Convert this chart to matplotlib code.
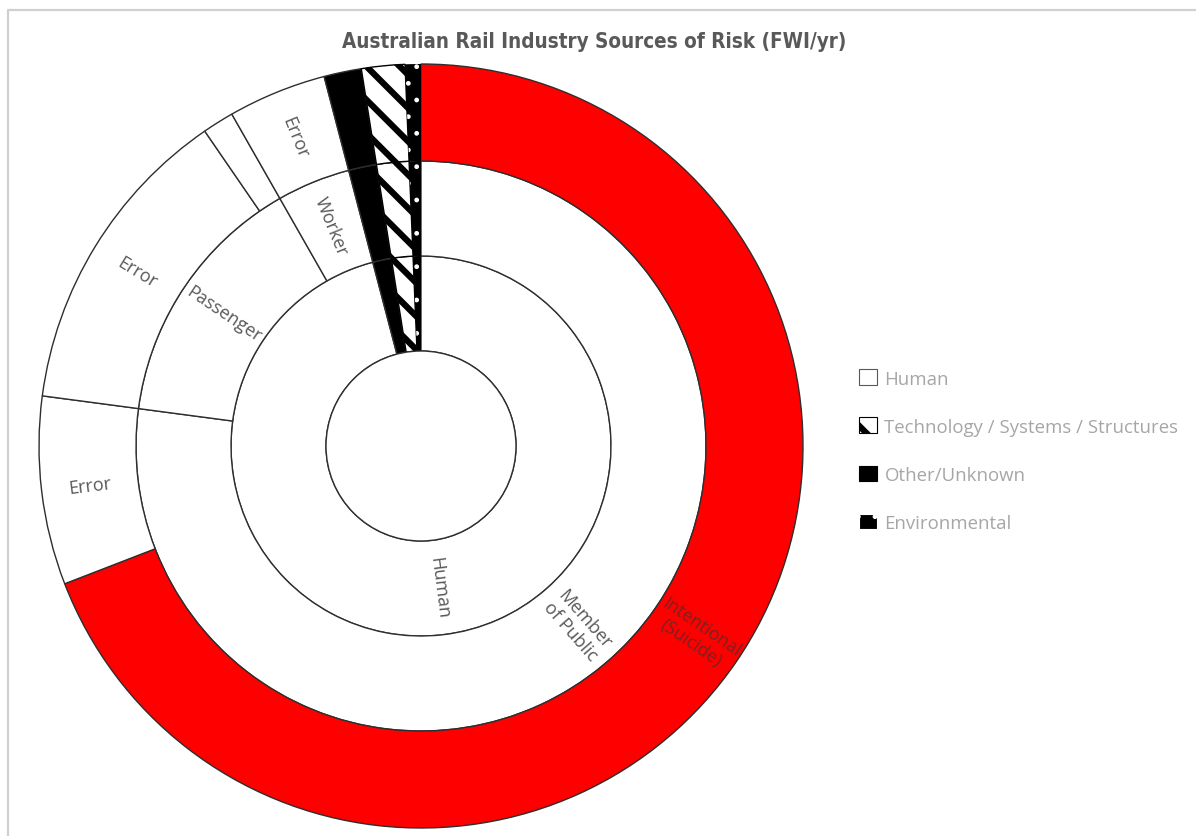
import math
import matplotlib as mpl
import matplotlib.pyplot as plt
from matplotlib.patches import Patch, Circle

# leaf level of the sunburst, clockwise from 12 o'clock
source = ['Human', 'Human', 'Human', 'Human', 'Human', 'Other/Unknown',
          'Technology / Systems / Structures', 'Technology / Systems / Structures',
          'Environmental']
group = ['Member\nof Public', 'Member\nof Public', 'Passenger', 'Passenger', 'Worker',
         '', '', '', '']
cause = ['Intentional\n(Suicide)', 'Error', 'Error', '', 'Error', '', '', '', '']
fwi = [24.9, 2.87, 4.8, 0.48, 1.5, 0.57, 0.33, 0.33, 0.24]

legend_names = ['Human', 'Technology / Systems / Structures', 'Other/Unknown', 'Environmental']

W, H = 1196, 837
CX, CY = 421, H - 447
R0 = 95
ring_outer = [190, 285, 382]
ring_width = [95, 95, 97]
EDGE = '#2e2e2e'
TXT = '#595959'

face = {'Human': 'white', 'Other/Unknown': 'black',
        'Technology / Systems / Structures': 'white', 'Environmental': 'black'}
hatch = {'Human': '', 'Other/Unknown': '',
         'Technology / Systems / Structures': '\\', 'Environmental': '.'}


def collapse(keys, vals):
    # sum consecutive leaves that share the same key (keeps clockwise order)
    out_k, out_v = [], []
    for k, v in zip(keys, vals):
        if out_k and out_k[-1] == k:
            out_v[-1] += v
        else:
            out_k.append(k)
            out_v.append(v)
    return out_k, out_v


def thin_dots(patch, name):
    if name == 'Environmental' and hasattr(patch, 'set_hatch_linewidth'):
        patch.set_hatch_linewidth(1.0)


plt.rcParams['font.family'] = ['Open Sans', 'DejaVu Sans']
plt.rcParams['hatch.linewidth'] = 4.5
fig = plt.figure(figsize=(W / 100, H / 100), dpi=100)
ax = fig.add_axes([0, 0, 1, 1])

levels = [
    collapse([(s,) for s in source], fwi),
    collapse(list(zip(source, group)), fwi),
    collapse(list(zip(source, group, cause)), fwi),
]

for lvl, (keys, vals) in enumerate(levels):
    radius = ring_outer[lvl]
    labels = [k[lvl] if k[0] == 'Human' else '' for k in keys]
    colors = []
    for k in keys:
        c = face[k[0]]
        if lvl == 2 and k[2].startswith('Intentional'):
            c = '#ff0000'
        colors.append(c)
    hatches = [hatch[k[0]] for k in keys]
    mid = radius - ring_width[lvl] / 2
    wedges, texts = ax.pie(vals, radius=radius, center=(CX, CY), startangle=90,
                           counterclock=False, colors=colors, hatch=hatches,
                           labels=labels, labeldistance=mid / radius,
                           wedgeprops=dict(width=ring_width[lvl], edgecolor=EDGE, linewidth=1.0),
                           textprops=dict(ha='center', va='center', rotation_mode='anchor',
                                          fontsize=13, color=TXT, linespacing=1.1))
    for w, k, t in zip(wedges, keys, texts):
        if k[0] == 'Technology / Systems / Structures':
            w.set_edgecolor('black')
        if k[0] == 'Environmental':
            w.set_edgecolor('white')
            w.set_linewidth(0)
            thin_dots(w, k[0])
        # radial labels, flipped on the left half so they stay readable
        x, y = t.get_position()
        ang = math.degrees(math.atan2(y - CY, x - CX))
        t.set_rotation(ang if x - CX > 0 else ang + 180)
        if lvl == 2 and k[2].startswith('Intentional'):
            t.set_color('#7a2222')

ax.add_patch(Circle((CX, CY), R0, facecolor='white', edgecolor=EDGE, linewidth=1.0))

# chart area border (cropped on the right and bottom)
ax.plot([7.5, 7.5, W], [0, H - 11, H - 11], color='#d0d0d0', linewidth=1.6, clip_on=False)

ax.set_xlim(0, W)
ax.set_ylim(0, H)
ax.set_aspect('equal')
ax.axis('off')

fig.text(594 / W, 1 - 42 / H, 'Australian Rail Industry Sources of Risk (FWI/yr)',
         ha='center', va='center', fontsize=14.8, fontweight='bold', color=TXT,
         family='DejaVu Sans', fontstretch='condensed')

handles = [Patch(facecolor=face[n], edgecolor='black' if n != 'Environmental' else 'white',
                 hatch=hatch[n], linewidth=0.8) for n in legend_names]
handles[0].set_edgecolor('#595959')
leg = fig.legend(handles, legend_names, loc='upper left', bbox_to_anchor=(852 / W, 1 - 363 / H),
                 frameon=False, fontsize=13.4, labelcolor='#a6a6a6', handlelength=0.92,
                 handleheight=0.92, handletextpad=0.42, labelspacing=1.6, borderaxespad=0)
for h, n in zip(leg.legend_handles, legend_names):
    thin_dots(h, n)

fig.savefig('out.png', dpi=100)
